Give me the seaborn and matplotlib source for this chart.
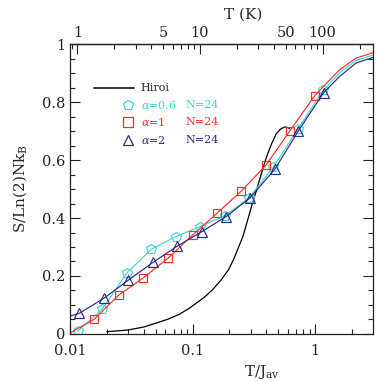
import numpy as np
import pandas as pd
import matplotlib
matplotlib.use("Agg")
import matplotlib.pyplot as plt
import matplotlib.ticker as mticker
import seaborn as sns

# ------------------------------
# Data (x = T/J_av)
# ------------------------------
J_AV = 87.0  # K, links the top T(K) axis to T/J_av

hiroi_x = [0.020, 0.025, 0.030, 0.040, 0.050, 0.063, 0.078, 0.092, 0.107,
           0.125, 0.145, 0.170, 0.196, 0.215, 0.235, 0.257, 0.280, 0.305,
           0.330, 0.365, 0.400, 0.440, 0.480, 0.520, 0.560, 0.600, 0.620]
hiroi_y = [0.008, 0.011, 0.014, 0.024, 0.037, 0.051, 0.068, 0.086, 0.106,
           0.127, 0.152, 0.185, 0.221, 0.255, 0.295, 0.336, 0.390, 0.445,
           0.492, 0.555, 0.610, 0.655, 0.690, 0.706, 0.714, 0.712, 0.708]

# alpha = 0.6 (pentagons)
a06_x = [0.0116, 0.0183, 0.029, 0.046, 0.073, 0.115, 0.183, 0.29, 0.455, 0.72, 1.16]
a06_y = [0.010, 0.085, 0.209, 0.292, 0.336, 0.370, 0.408, 0.470, 0.575, 0.706, 0.840]
a06_tail_x = [1.57, 2.14, 2.95]
a06_tail_y = [0.899, 0.943, 0.962]

# alpha = 1 (squares)
a1_x = [0.0158, 0.025, 0.0398, 0.063, 0.10, 0.158, 0.25, 0.398, 0.623, 0.99]
a1_y = [0.051, 0.134, 0.194, 0.261, 0.341, 0.416, 0.493, 0.583, 0.701, 0.822]
a1_head_x = [0.0100]
a1_head_y = [0.003]
a1_tail_x = [1.57, 2.14, 2.95]
a1_tail_y = [0.910, 0.951, 0.970]

# alpha = 2 (triangles)
a2_x = [0.0119, 0.0189, 0.030, 0.0476, 0.075, 0.119, 0.188, 0.295, 0.47, 0.73, 1.17]
a2_y = [0.071, 0.123, 0.186, 0.247, 0.303, 0.353, 0.405, 0.470, 0.569, 0.701, 0.832]
a2_head_x = [0.0100]
a2_head_y = [0.062]
a2_tail_x = [1.57, 2.14, 2.95]
a2_tail_y = [0.887, 0.934, 0.954]

y_ticks = [0, 0.2, 0.4, 0.6, 0.8, 1]
y_ticklabels = ["0", "0.2", "0.4", "0.6", "0.8", "1"]
x_ticks = [0.01, 0.1, 1]
x_ticklabels = ["0.01", "0.1", "1"]
top_major = [1, 10, 100]
top_labeled = [1, 5, 10, 50, 100]

CYAN = "#3cd8d0"
RED = "#ff2b2b"
NAVY = "#2a2a88"

sns.set_style("ticks")
plt.rcParams["font.family"] = ["DejaVu Serif", "DejaVu Sans"]
plt.rcParams["mathtext.fontset"] = "dejavuserif"

fig = plt.figure(figsize=(3.82, 3.82), dpi=100)
ax = fig.add_axes([0.183, 0.1257, 0.793, 0.759])
ax.set_xscale("log")

# ------------------------------
# Curves
# ------------------------------
sns.lineplot(x=hiroi_x, y=hiroi_y, color="black", lw=0.9, sort=False, ax=ax)

series = [
    ([], [], a06_x, a06_y, a06_tail_x, a06_tail_y, CYAN, "p", 7.0),
    (a1_head_x, a1_head_y, a1_x, a1_y, a1_tail_x, a1_tail_y, RED, "s", 6.0),
    (a2_head_x, a2_head_y, a2_x, a2_y, a2_tail_x, a2_tail_y, NAVY, "^", 6.5),
]
for hx, hy, mx, my, tx, ty, col, mk, ms in series:
    line = pd.DataFrame({"x": hx + mx + tx, "y": hy + my + ty})
    sns.lineplot(data=line, x="x", y="y", color=col, lw=0.85, sort=False, ax=ax)
    pts = pd.DataFrame({"x": mx, "y": my})
    sns.lineplot(data=pts, x="x", y="y", color=col, linestyle="", marker=mk,
                 markersize=ms, markerfacecolor="none", markeredgecolor=col,
                 markeredgewidth=0.85, sort=False, ax=ax)

# ------------------------------
# Axes
# ------------------------------
ax.set_xlim(0.01, 2.95)
ax.set_ylim(0, 1)
ax.set_xticks(x_ticks)
ax.set_xticklabels(x_ticklabels)
ax.xaxis.set_minor_formatter(mticker.NullFormatter())
ax.set_yticks(y_ticks)
ax.set_yticklabels(y_ticklabels)
ax.yaxis.set_minor_locator(mticker.MultipleLocator(0.05))
ax.tick_params(which="both", direction="in", top=False, right=True,
               labelsize=10.5, width=0.8, colors="#222222")
ax.tick_params(which="major", length=7)
ax.tick_params(which="minor", length=3.5)
ax.tick_params(axis="x", pad=7)
for s in ax.spines.values():
    s.set_linewidth(0.9)
    s.set_color("#222222")
    s.set_visible(True)

ax.set_xlabel(r"T/J$_{\rm av}$", fontsize=11)
ax.xaxis.set_label_coords(0.634, -0.1)
ax.set_ylabel(r"S/Ln(2)Nk$_{\rm B}$", fontsize=11)
ax.yaxis.set_label_coords(-0.135, 0.5)

# top axis in kelvin
top = ax.secondary_xaxis("top", functions=(lambda x: x * J_AV, lambda t: t / J_AV))
top.xaxis.set_major_locator(mticker.FixedLocator(top_major))
top.xaxis.set_major_formatter(mticker.FuncFormatter(lambda v, p: f"{v:g}"))
top.xaxis.set_minor_locator(mticker.LogLocator(base=10, subs=np.arange(2, 10), numticks=20))
top.xaxis.set_minor_formatter(mticker.FuncFormatter(
    lambda v, p: f"{round(v):g}" if round(v) in top_labeled and abs(v - round(v)) < 1e-6 * v + 1e-9 else ""))
top.tick_params(which="both", direction="in", labelsize=10.5, width=0.8, colors="#222222", pad=3)
top.tick_params(which="major", length=7)
top.tick_params(which="minor", length=3.5)
top.spines["top"].set_linewidth(0.9)
ax.text(0.573, 1.1, "T (K)", transform=ax.transAxes, ha="center", va="center", fontsize=11)

# ------------------------------
# Legend (drawn by hand)
# ------------------------------
ax.plot([0.079, 0.211], [0.848, 0.848], color="#333333", lw=1.4, transform=ax.transAxes)
ax.text(0.234, 0.848, "Hiroi", transform=ax.transAxes, va="center", fontsize=8)
leg_rows = [(CYAN, "p", 7.5, r"$\alpha$=0.6", 0.790),
            (RED, "s", 6.5, r"$\alpha$=1", 0.732),
            (NAVY, "^", 7.0, r"$\alpha$=2", 0.669)]
for col, mk, ms, lab, yy in leg_rows:
    ax.plot([0.192], [yy], marker=mk, markersize=ms, markerfacecolor="none",
            markeredgecolor=col, markeredgewidth=0.9, linestyle="", transform=ax.transAxes)
    ax.text(0.234, yy, lab, color=col, transform=ax.transAxes, va="center", fontsize=8)
    ax.text(0.380, yy, "N=24", color=col, transform=ax.transAxes, va="center", fontsize=8)

fig.savefig("out.png", dpi=100)
